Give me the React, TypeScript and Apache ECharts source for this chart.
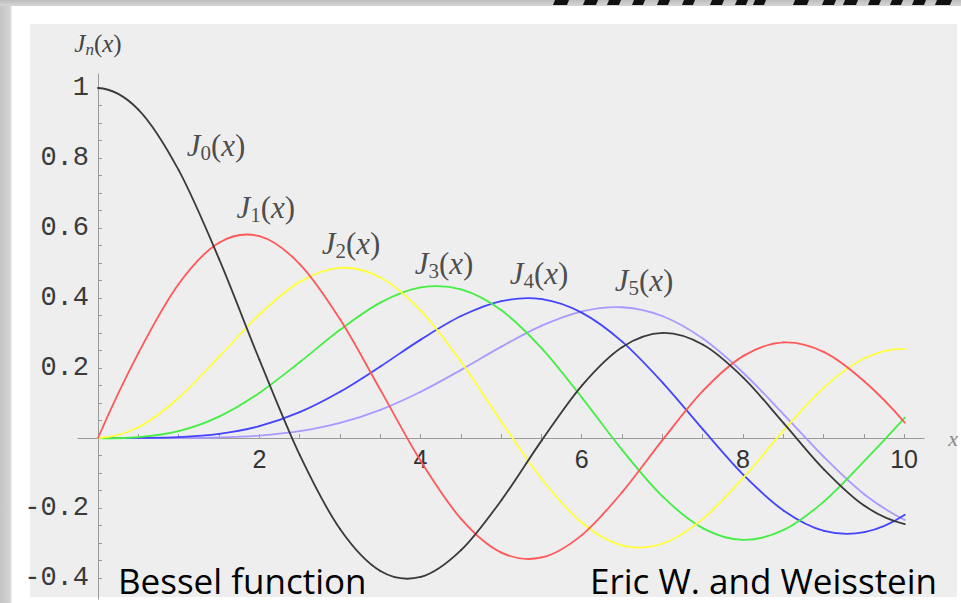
import { useEffect, useRef } from 'react';
import * as echarts from 'echarts';

// Sample points along x
const xValues = [0, 0.5, 1, 1.5, 2, 2.5, 3, 3.5, 4, 4.5, 5, 5.5, 6, 6.5, 7, 7.5, 8, 8.5, 9, 9.5, 10];

// Bessel functions of the first kind, J0 … J5
const j0 = [1, 0.9385, 0.7652, 0.5118, 0.2239, -0.0484, -0.2601, -0.3801, -0.3971, -0.3205, -0.1776, -0.0068, 0.1506, 0.2601, 0.3001, 0.2663, 0.1717, 0.0419, -0.0903, -0.1939, -0.2459];
const j1 = [0, 0.2423, 0.4401, 0.5579, 0.5767, 0.4971, 0.3391, 0.1374, -0.066, -0.2311, -0.3276, -0.3414, -0.2767, -0.1538, -0.0047, 0.1352, 0.2346, 0.2731, 0.2453, 0.1613, 0.0435];
const j2 = [0, 0.0306, 0.1149, 0.2321, 0.3528, 0.4461, 0.4861, 0.4586, 0.3641, 0.2178, 0.0466, -0.1173, -0.2429, -0.3074, -0.3014, -0.2303, -0.113, 0.0223, 0.1448, 0.2279, 0.2546];
const j3 = [0, 0.0026, 0.0196, 0.061, 0.1289, 0.2166, 0.3091, 0.3868, 0.4302, 0.4247, 0.3648, 0.2561, 0.1148, -0.0353, -0.1676, -0.2581, -0.2911, -0.2626, -0.1809, -0.0652, 0.0584];
const j4 = [0, 0.0002, 0.0025, 0.0118, 0.034, 0.0738, 0.132, 0.2044, 0.2811, 0.3484, 0.3912, 0.3967, 0.3576, 0.2748, 0.1578, 0.0238, -0.1054, -0.2077, -0.2655, -0.2691, -0.2196];
const j5 = [0, 0, 0.0002, 0.0018, 0.007, 0.0195, 0.043, 0.0804, 0.1321, 0.1947, 0.2611, 0.3209, 0.3621, 0.3736, 0.3479, 0.2835, 0.1858, 0.0671, -0.055, -0.1613, -0.2341];

const seriesValues = [j0, j1, j2, j3, j4, j5];
const seriesOrders = ['0', '1', '2', '3', '4', '5'];

// Tick labels
const xTickLabels = [2, 4, 6, 8, 10];
const yTickLabels = [-0.4, -0.2, 0.2, 0.4, 0.6, 0.8, 1];

// Where each curve's name sits, in data coordinates
const curveLabelAnchors: [number, number][] = [
  [1.463, 0.837],
  [2.08, 0.66],
  [3.136, 0.557],
  [4.289, 0.5],
  [5.466, 0.471],
  [6.767, 0.449],
];

const lineColors = ['#3a3a3a', '#ff5858', '#ffff3a', '#44ee44', '#4444ff', '#aa9aff'];

// Cut-off lettering in the top border strip: [left, right] in px
const topStrokes: [number, number][] = [
  [553, 567], [583, 596], [607, 619], [632, 643], [657, 668], [682, 693],
  [710, 722], [735, 746], [753, 764], [793, 807], [822, 834], [843, 856],
  [868, 879], [890, 901], [912, 924], [935, 950],
];

function stepped(from: number, to: number, step: number): number[] {
  const out: number[] = [];
  for (let v = from; v <= to + 1e-9; v += step) out.push(Math.round(v * 100) / 100);
  return out;
}

const serif = '"Liberation Serif", "DejaVu Serif", serif';

const curveRich = {
  j: { fontFamily: serif, fontStyle: 'italic', fontSize: 31, color: '#222', lineHeight: 36 },
  s: { fontFamily: serif, fontSize: 21, color: '#222', lineHeight: 28, verticalAlign: 'bottom' },
  p: { fontFamily: serif, fontSize: 31, color: '#222', lineHeight: 36 },
};

// Smooth curve through the samples: each item draws the cubic piece to the next sample
function curveSeries(vals: number[], color: string, z: number) {
  const last = xValues.length - 1;
  return {
    type: 'custom',
    xAxisIndex: 0,
    yAxisIndex: 0,
    z,
    silent: true,
    data: xValues.map((x, k) => [x, vals[k]]),
    encode: { x: 0, y: 1 },
    renderItem: (params: any, api: any) => {
      const i = params.dataIndex;
      if (i >= last) return null;
      const pt = (k: number): number[] => api.coord([xValues[k], vals[k]]);
      const p1 = pt(i);
      const p2 = pt(i + 1);
      // beyond either end, continue the curve quadratically from the last three samples
      const p0 = i > 0 ? pt(i - 1) : [0, 1].map((d) => 3 * p1[d] - 3 * p2[d] + pt(i + 2)[d]);
      const p3 = i + 2 <= last ? pt(i + 2) : [0, 1].map((d) => 3 * p2[d] - 3 * p1[d] + pt(i - 1)[d]);
      return {
        type: 'bezierCurve',
        shape: {
          x1: p1[0], y1: p1[1],
          x2: p2[0], y2: p2[1],
          cpx1: p1[0] + (p2[0] - p0[0]) / 6, cpy1: p1[1] + (p2[1] - p0[1]) / 6,
          cpx2: p2[0] - (p3[0] - p1[0]) / 6, cpy2: p2[1] - (p3[1] - p1[1]) / 6,
        },
        style: { stroke: color, lineWidth: 1.8, fill: null, lineCap: 'round' },
      };
    },
  };
}

export default function App() {
  const ref = useRef<HTMLDivElement>(null);

  useEffect(() => {
    if (!ref.current) return;
    const chart = echarts.init(ref.current, undefined, { renderer: 'svg' });

    const curves = seriesValues.map((vals, i) => curveSeries(vals, lineColors[i], 2 + (5 - i)));

    const labels = {
      type: 'scatter',
      xAxisIndex: 0,
      yAxisIndex: 0,
      symbolSize: 0,
      silent: true,
      z: 20,
      data: curveLabelAnchors.map((c, i) => ({
        value: c,
        label: { formatter: '{j|J}{s|' + seriesOrders[i] + '}{p|(}{j|x}{p|)}' },
      })),
      label: { show: true, position: 'inside', rich: curveRich },
    };

    const graphic: any[] = [
      { type: 'rect', z: -20, shape: { x: 0, y: 0, width: 961, height: 603 }, style: { fill: '#ffffff' } },
      {
        type: 'rect', z: -19, shape: { x: 0, y: 0, width: 12, height: 603 },
        style: {
          fill: new echarts.graphic.LinearGradient(0, 0, 1, 0, [
            { offset: 0, color: '#c4c4c4' },
            { offset: 0.8, color: '#d2d2d2' },
            { offset: 1, color: '#f0f0f0' },
          ]),
        },
      },
      {
        type: 'rect', z: -19, shape: { x: 0, y: 0, width: 961, height: 6 },
        style: {
          fill: new echarts.graphic.LinearGradient(0, 0, 0, 1, [
            { offset: 0, color: '#bdbdbd' },
            { offset: 1, color: '#d6d6d6' },
          ]),
        },
      },
      { type: 'rect', z: -18, shape: { x: 30, y: 24, width: 927, height: 573 }, style: { fill: '#eeeeee' } },
      ...topStrokes.map(([a, b]) => ({
        type: 'polygon', z: -17,
        shape: { points: [[a, 5], [b, 5], [b + 2, 0], [a + 2, 0]] },
        style: { fill: '#111111' },
      })),
      {
        type: 'text', z: 100, x: 118, y: 598,
        style: { text: 'Bessel function', font: '35px "Open Sans", sans-serif', fill: '#000', textVerticalAlign: 'bottom' },
      },
      {
        type: 'text', z: 100, x: 590, y: 598,
        style: { text: 'Eric W. and Weisstein', font: '35px "Open Sans", sans-serif', fill: '#000', textVerticalAlign: 'bottom' },
      },
    ];

    chart.setOption({
      animation: false,
      backgroundColor: '#ffffff',
      graphic,
      grid: [
        // plotting area: x from 0, y axis on its left edge
        { left: 98, top: 74, width: 827, height: 525 },
        // strip whose bottom edge is y = 0, carrying the x axis
        { left: 78, top: 74, width: 847, height: 364 },
      ],
      xAxis: [
        { type: 'value', gridIndex: 0, min: 0, max: 10.25, show: false },
        {
          type: 'value',
          gridIndex: 1,
          min: -0.25,
          max: 10.25,
          position: 'bottom',
          name: 'x',
          nameLocation: 'end',
          nameGap: 24,
          nameTextStyle: { fontFamily: serif, fontStyle: 'italic', fontSize: 22, color: '#8a8a8a', padding: [14, 0, 0, 0] },
          splitLine: { show: false },
          axisLine: { onZero: false, lineStyle: { color: '#9a9a9a', width: 1 } },
          axisTick: { show: true, inside: true, length: 4, customValues: stepped(0.5, 10, 0.5), lineStyle: { color: '#9a9a9a' } },
          axisLabel: {
            customValues: xTickLabels,
            margin: 8,
            fontFamily: '"Liberation Sans", Arial, sans-serif',
            fontSize: 25,
            color: '#333',
          },
        },
      ],
      yAxis: [
        {
          type: 'value',
          gridIndex: 0,
          min: -0.46,
          max: 1.04,
          position: 'left',
          name: '{j|J}{n|n}{p|(}{j|x}{p|)}',
          nameLocation: 'end',
          nameGap: 16,
          nameTextStyle: {
            rich: {
              j: { fontFamily: serif, fontStyle: 'italic', fontSize: 25, color: '#444', lineHeight: 30 },
              n: { fontFamily: serif, fontStyle: 'italic', fontSize: 17, color: '#444', lineHeight: 22, verticalAlign: 'bottom' },
              p: { fontFamily: serif, fontSize: 25, color: '#444', lineHeight: 30 },
            },
          },
          splitLine: { show: false },
          axisLine: { onZero: false, lineStyle: { color: '#9a9a9a', width: 1 } },
          axisTick: { show: true, inside: true, length: 4, customValues: stepped(-0.4, 1, 0.05), lineStyle: { color: '#9a9a9a' } },
          axisLabel: {
            customValues: yTickLabels,
            margin: 9,
            fontFamily: '"Liberation Mono", "DejaVu Sans Mono", monospace',
            fontSize: 27,
            color: '#3a3a3a',
            formatter: (v: number) => String(v),
          },
        },
        { type: 'value', gridIndex: 1, min: 0, max: 1, show: false },
      ],
      series: [...curves, labels],
    });

    return () => chart.dispose();
  }, []);

  return <div ref={ref} style={{ position: 'absolute', left: 0, top: 0, width: 961, height: 603 }} />;
}
